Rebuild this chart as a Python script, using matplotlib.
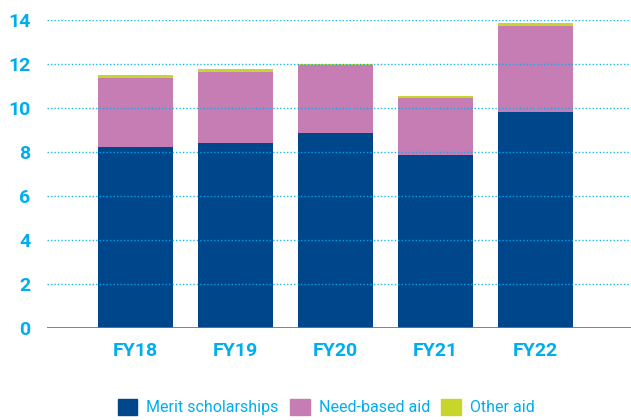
import matplotlib
matplotlib.use("Agg")
import matplotlib.pyplot as plt
from matplotlib.patches import Patch
from matplotlib import font_manager

years = ["FY18", "FY19", "FY20", "FY21", "FY22"]
merit = [8.23, 8.41, 8.86, 7.86, 9.82]
need = [3.15, 3.24, 3.10, 2.61, 3.92]
other = [0.12, 0.12, 0.03, 0.08, 0.12]
yticks = [0, 2, 4, 6, 8, 10, 12, 14]

names = {f.name for f in font_manager.fontManager.ttflist}
fam = [n for n in ["Liberation Sans Narrow", "DejaVu Sans Condensed", "Roboto"] if n in names] + ["DejaVu Sans"]
plt.rcParams['font.family'] = fam

C_MERIT = "#00468b"
C_NEED = "#c67db3"
C_OTHER = "#c8d62b"
C_TEXT = "#00aeef"

fig = plt.figure(figsize=(6.31, 4.2), dpi=100)
ax = fig.add_axes([47/631, 1-328/420, 1-47/631, 308/420])

x = list(range(len(years)))
w = 0.75
ax.bar(x, merit, w, color=C_MERIT, zorder=2)
ax.bar(x, need, w, bottom=merit, color=C_NEED, zorder=2)
bot2 = [m + n for m, n in zip(merit, need)]
ax.bar(x, other, w, bottom=bot2, color=C_OTHER, zorder=2)

ax.set_xlim(-0.88, 4.96)
ax.set_ylim(0, 14)
ax.set_yticks(yticks)
for t in yticks[1:]:
    ax.axhline(t, color=C_TEXT, lw=1.0, ls=(0, (1, 1.5)), zorder=3, alpha=0.9)
ax.axhline(0, color="#4a7fb5", lw=2, zorder=4)

for s in ax.spines.values():
    s.set_visible(False)
ax.tick_params(axis='both', length=0)
ax.set_xticks(x)
ax.set_xticklabels(years, fontsize=14, fontweight='bold', color=C_TEXT)
ax.tick_params(axis='x', pad=10)
ax.set_yticklabels([str(t) for t in yticks], fontsize=14, fontweight='bold', color=C_TEXT)
ax.tick_params(axis='y', pad=12)

handles = [Patch(color=C_MERIT), Patch(color=C_NEED), Patch(color=C_OTHER)]
fig.legend(handles, ["Merit scholarships", "Need-based aid", "Other aid"],
           loc='center', bbox_to_anchor=(326/631, 1-407/420), ncol=3, frameon=False,
           fontsize=11.5, labelcolor=C_TEXT, handlelength=1.25, handleheight=1.25,
           handletextpad=0.55, columnspacing=0.7, borderpad=0)

fig.savefig("out.png", dpi=100)
